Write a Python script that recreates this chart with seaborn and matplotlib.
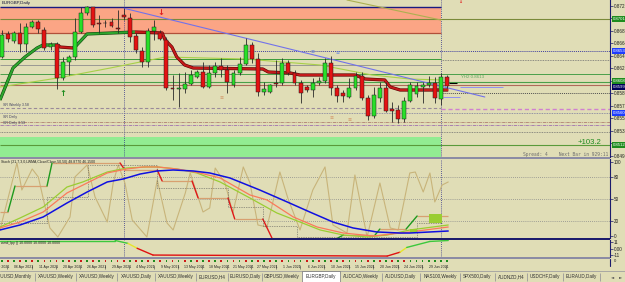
import matplotlib
matplotlib.use("Agg")
import matplotlib.pyplot as plt
import matplotlib.patheffects as pe
from matplotlib.patches import Rectangle
import seaborn as sns
import pandas as pd

sns.set_theme(style="white")
plt.rcParams['font.family'] = ['Liberation Sans', 'DejaVu Sans']

# ---------------- data ----------------
opens = [0.86445,0.86790,0.86685,0.86805,0.86640,0.86895,0.86970,0.86850,0.86595,0.86640,
         0.86130,0.86370,0.86445,0.86820,0.87105,0.87195,0.86955,0.86948,0.86970,0.86880,
         0.87075,0.87030,0.86760,0.86535,0.86370,0.86835,0.86805,0.86700,0.85980,0.85965,
         0.85965,0.86040,0.86145,0.86220,0.85995,0.86200,0.86315,0.86250,0.86025,0.86205,
         0.86340,0.86625,0.86415,0.85925,0.85925,0.86060,0.86055,0.86355,0.86205,0.86055,
         0.85995,0.85950,0.86060,0.86090,0.86355,0.85980,0.85910,0.85850,0.85980,0.86160,
         0.85830,0.85560,0.85830,0.85980,0.85658,0.85650,0.85515,0.85790,0.85890,0.85999,
         0.86025,0.86050,0.85810,0.86150]
highs = [0.86850,0.86835,0.86835,0.86955,0.86955,0.87000,0.87000,0.86895,0.86670,0.86670,
         0.86445,0.86475,0.87030,0.87195,0.87210,0.87195,0.87075,0.87000,0.87030,0.87150,
         0.87180,0.87105,0.86805,0.86595,0.86880,0.87000,0.86850,0.86745,0.86175,0.86205,
         0.86220,0.86250,0.86250,0.86370,0.86325,0.86375,0.86430,0.86325,0.86250,0.86450,
         0.86730,0.86675,0.86505,0.86075,0.86040,0.86400,0.86430,0.86400,0.86250,0.86100,
         0.86025,0.86130,0.86150,0.86430,0.86460,0.86025,0.85950,0.86130,0.86225,0.86225,
         0.85875,0.85999,0.86075,0.86075,0.85775,0.85725,0.85850,0.86075,0.86075,0.86075,
         0.86160,0.86150,0.86205,0.86175]
lows = [0.86430,0.86670,0.86655,0.86520,0.86520,0.86880,0.86805,0.86550,0.86550,0.85965,
        0.86100,0.86175,0.86400,0.86805,0.87075,0.86895,0.86805,0.86895,0.86895,0.86805,
        0.87000,0.86670,0.86505,0.86295,0.86295,0.86700,0.86700,0.85950,0.85800,0.85695,
        0.85905,0.86025,0.86130,0.85980,0.85980,0.86150,0.86145,0.85905,0.85995,0.86175,
        0.86325,0.86355,0.85860,0.85875,0.85905,0.85999,0.86025,0.86175,0.86025,0.85755,
        0.85920,0.85850,0.86025,0.86055,0.85875,0.85775,0.85775,0.85830,0.85950,0.85800,
        0.85500,0.85530,0.85775,0.85625,0.85475,0.85455,0.85475,0.85775,0.85850,0.85755,
        0.85999,0.85760,0.85725,0.85980]
closes = [0.86775,0.86715,0.86805,0.86640,0.86895,0.86970,0.86865,0.86580,0.86640,0.86130,
          0.86370,0.86445,0.86820,0.87105,0.87195,0.86925,0.86940,0.86962,0.86910,0.86865,
          0.87040,0.86745,0.86550,0.86370,0.86835,0.86895,0.86715,0.85980,0.85965,0.85980,
          0.86040,0.86175,0.86220,0.85995,0.86205,0.86315,0.86250,0.86075,0.86205,0.86340,
          0.86625,0.86415,0.85925,0.85965,0.86025,0.86040,0.86355,0.86210,0.86055,0.85910,
          0.85950,0.86060,0.86090,0.86355,0.85980,0.85860,0.85860,0.85980,0.86160,0.85830,
          0.85560,0.85875,0.85985,0.85640,0.85642,0.85515,0.85790,0.86025,0.86010,0.86025,
          0.86060,0.85825,0.86150,0.86010]

price_ticks = [0.87210,0.87023,0.86835,0.86648,0.86460,0.86273,0.86085,
               0.85898,0.85710,0.85523,0.85335,0.85148,0.84960]
marked_prices = [0.87015,0.86535,0.86085,0.85995,0.85605,0.85125]

supply_zone = (0.86800, 0.87190)
demand_zone = (0.84945, 0.85250)
zone_end = 72.0

levels = [0.87200,0.87015,0.86800,0.86535,0.86422,0.86400,0.86325,0.86197,0.86075,
          0.86020,0.85900,0.85675,0.85660,0.85600,0.85475,0.85425,0.85315,0.85125]

ma_x = [-0.28, 9.2, 17.8, 26.8, 39.9, 52.2, 60.7, 66.9, 72.0]
ma_y = [0.85995,0.86130,0.86280,0.86445,0.86415,0.86325,0.86175,0.86115,0.86100]
long_ma_x = [56.6, 72.0]
long_ma_y = [0.87300, 0.87000]
trend_x = [20.1, 79.2]
trend_y = [0.87175, 0.85845]

st_green1_x = [-0.28, 1.85, 3.82, 5.79, 6.77, 9.23]
st_green1_y = [0.85800,0.86280,0.86445,0.86580,0.86625,0.86625]
st_red1_x = [9.23, 9.56, 11.69]
st_red1_y = [0.86625,0.86595,0.86580]
st_green2_x = [11.69, 12.0, 14.0, 21.85]
st_green2_y = [0.86580,0.86595,0.86790,0.86820]
st_red2_x = [21.85,26.3,26.8,27.9,28.7,30.0,31.4,42.8,43.7,47.3,48.9,57.9,59.6,62.8,63.7,65.3,73.2]
st_red2_y = [0.86820,0.86805,0.86700,0.86595,0.86445,0.86325,0.86280,0.86265,0.86220,
             0.86205,0.86175,0.86175,0.86115,0.86100,0.85995,0.85950,0.85950]

# oscillator panel
osc_x = [-0.28,2.5,3.3,5.0,6.0,7.9,9.2,11.2,12.0,14.0,15.3,17.3,18.3,19.1,20.2,21.4,23.8,25.5,
         27.1,28.1,30.1,30.9,33.0,34.1,35.0,36.6,37.9,39.6,40.7,42.0,43.5,45.6,46.9,48.9,51.0,
         53.0,54.3,56.6,57.9,59.9,62.0,63.7,65.0,66.9,67.8,69.1,70.2,71.0,72.2,73.2]
osc_v = [8.1,98.3,61.9,90.2,79.4,10.8,-1.3,25.6,79.4,95.6,52.5,18.8,72.7,95.6,71.3,21.5,-1.3,
         75.4,17.5,8.1,57.9,84.8,32.3,37.7,91.5,71.3,31.0,92.9,71.3,14.8,12.1,86.1,51.1,8.1,
         61.9,92.9,14.8,4.0,82.1,-1.3,71.3,10.8,8.1,84.8,86.1,59.2,84.8,45.8,68.6,72.7]
blue_x = [-0.28,3.0,6.8,10.7,14.0,17.3,19.9,22.7,25.5,28.1,31.4,34.1,37.4,42.3,46.8,50.5,
          54.3,57.6,61.5,65.3,66.9,73.2]
blue_v = [8.1,14.8,25.6,44.4,59.2,72.7,76.7,83.4,87.5,88.8,87.5,84.8,78.1,61.9,45.8,32.3,
          18.8,10.8,5.4,4.0,4.0,6.7]
salmon_x = [-0.28,3.0,6.8,10.7,14.0,17.3,20.5,23.2,25.5,28.7,32.5,35.8,40.7,43.5,47.8,51.7,
            56.0,60.9,65.3,66.9,73.2]
salmon_v = [10.8,18.8,32.3,57.9,71.3,84.8,90.2,92.9,92.9,90.2,84.8,78.1,55.2,48.5,25.6,12.1,
            4.0,0.0,4.0,5.4,12.1]
lime_x = [-0.28,3.0,6.8,10.7,13.3,17.3,20.5,23.8,25.5,28.7,32.0,35.8,40.7,45.1,48.9,52.2,
          56.0,59.9,63.2,66.9,73.2]
lime_v = [12.1,24.2,39.0,65.9,72.7,86.1,91.5,92.9,92.9,90.2,84.8,72.7,51.1,31.0,18.8,8.1,
          1.3,-1.3,1.3,8.1,14.8]
step_x0 = [-0.28,2.18,8.25,20.2,26.3,32.2,38.2,44.3,56.0,62.0,68.1]
step_x1 = [1.03,7.43,19.4,25.5,31.2,37.1,42.8,55.1,61.2,66.3,73.2]
step_v = [32.7,67.3,98.3,88.8,74.0,51.1,22.9,-2.7,1.3,9.4,26.9]
dot_x = [-0.28,7.43,14.1,25.5,37.1,42.8,48.4,68.1,72.2]
dot_v = [17.5,52.5,95.6,64.6,39.0,13.5,-1.3,17.9,17.9]
osc_levels = [80, 50, 20]

sub_x = [-0.28,18.6,20.7,22.2,24.8,63.2,65.3,66.4,70.2,73.2]
sub_v = [14.5,14.5,9.3,0.5,-11.7,-13.5,-6.5,2.0,12.8,14.5]
sub_colors = "ggyrrrygg"

signal_dots = "grgrgrgrgrgrgrgrgrgr" + "rgrgrgrgrgrgrgrgrgrg" + "rgrgrgrgrgrgrgrgrgrg" + "rgrgrgrggggggg"

date_labels = ["01 Apr 2021","06 Apr 2021","11 Apr 2021","20 Apr 2021","26 Apr 2021",
               "29 Apr 2021","4 May 2021","9 May 2021","13 May 2021","18 May 2021",
               "21 May 2021","27 May 2021","1 Jun 2021","6 Jun 2021","10 Jun 2021",
               "15 Jun 2021","20 Jun 2021","24 Jun 2021","29 Jun 2021"]

tabs = ["XAUUSD,Monthly","XAUUSD,Weekly","XAUUSD,Weekly","XAUUSD,Daily","XAUUSD,Weekly",
        "EURUSD,H4","EURUSD,Daily","GBPUSD,Weekly","EURGBP,Daily","AUDCAD,Weekly",
        "AUDUSD,Daily","NAS100,Weekly","SPX500,Daily","AUDNZD,H4","USDCHF,Daily","EURAUD,Daily"]
tab_edges = [-8,35,76,117,155,196,228,262,302,340,382,420,460,495,527,563,600]
active_tab = 8

# ---------------- layout ----------------
BG = '#E0DDB6'
NAVY = '#1C1C6C'
W, H = 625, 282
fig = plt.figure(figsize=(6.25, 2.82), dpi=100, facecolor=BG)

def rect(x0, y0, x1, y1):
    return [x0 / W, 1 - y1 / H, (x1 - x0) / W, (y1 - y0) / H]

XL = (-0.28, 99.72)
ax = fig.add_axes(rect(0, 0, 610, 157))
ax2 = fig.add_axes(rect(0, 159, 610, 238))
ax3 = fig.add_axes(rect(0, 239.5, 610, 257))
ax4 = fig.add_axes(rect(0, 258.5, 625, 271))
ax5 = fig.add_axes(rect(0, 271, 625, 282))

for a in (ax, ax2, ax3):
    a.set_facecolor(BG)
    a.set_xlim(*XL)
    a.set_xticks([])
    for s in ('left', 'top', 'bottom'):
        a.spines[s].set_visible(False)
    a.spines['right'].set_color(NAVY)
    a.spines['right'].set_linewidth(0.8)
    a.yaxis.set_ticks_position('right')
    a.tick_params(axis='y', direction='out', length=2, width=0.5, color=NAVY,
                  labelsize=3.3, pad=0.8, labelcolor='#202020')
    a.axvline(20, color='#30308A', ls=(0, (1, 1.5)), lw=0.6, zorder=1)
    a.axvline(72, color='#30308A', ls=(0, (1, 1.5)), lw=0.6, zorder=1)

# separators
for (y0, y1, c) in [(157, 159, '#8C8CA4'), (238, 239.5, NAVY), (257, 258.5, '#8C8CA4')]:
    fig.add_artist(Rectangle((0, 1 - y1 / H), 610 / W, (y1 - y0) / H,
                             transform=fig.transFigure, color=c, lw=0))

# ---------------- main price panel ----------------
ax.set_ylim(0.84945, 0.87300)
ax.set_yticks(price_ticks)
# tick labels hidden behind the highlighted price boxes are left blank
ax.set_yticklabels(['' if any(abs(p - m) < 0.0003 for m in marked_prices) else f"{p:.5f}"
                    for p in price_ticks])

ax.add_patch(Rectangle((XL[0], supply_zone[0]), zone_end - XL[0],
                       supply_zone[1] - supply_zone[0], color='#FBA585', lw=0, zorder=0))
ax.add_patch(Rectangle((XL[0], demand_zone[0]), zone_end - XL[0],
                       demand_zone[1] - demand_zone[0], color='#92EC92', lw=0, zorder=0))

lvl_styles = [
    ('#1A1A80', '-', 1.0, 'L'), ('#7A8A3A', '-', 0.8, 'F'), ('#B0503A', '-', 0.9, 'L'),
    ('#4040A0', (0, (1, 1)), 0.7, 'F'), ('#3A9A3A', '-', 0.7, 'L'), ('#707070', (0, (1, 1)), 0.6, 'R'),
    ('#8E8E8E', '-', 0.6, 'L'), ('#4AA04A', '-', 0.7, 'F'), ('#4AA04A', '-', 0.8, 'F'),
    ('#B06A5A', '-', 0.8, 'F'), ('#505050', (0, (1, 1)), 0.7, 'R'), ('#9A8A9A', (0, (3, 2)), 0.8, 'L'),
    ('#D080D0', (0, (3, 2)), 1.0, 'R'), ('#7878A0', (0, (1, 1)), 0.6, 'F'),
    ('#B08070', (0, (4, 1, 1, 1)), 0.6, 'F'), ('#A070B0', (0, (4, 1, 1, 1)), 0.6, 'F'),
    ('#707070', (0, (1, 1)), 0.6, 'F'), ('#5A9A3A', '-', 0.8, 'F')]
for lv, (c, ls, lw, span) in zip(levels, lvl_styles):
    x0, x1 = {'L': (XL[0], zone_end), 'R': (zone_end, XL[1]), 'F': XL}[span]
    ax.hlines(lv, x0, x1, colors=c, linestyles=ls, lw=lw, zorder=1)

sns.lineplot(x=ma_x, y=ma_y, ax=ax, color='#A8D048', lw=0.8, sort=False, estimator=None, zorder=2)
sns.lineplot(x=long_ma_x, y=long_ma_y, ax=ax, color='#ACB050', lw=0.8, sort=False, estimator=None, zorder=2)
sns.lineplot(x=trend_x, y=trend_y, ax=ax, color='#7272EA', lw=0.8, sort=False, estimator=None, zorder=2)
ax.hlines(0.85995, 75.1, 82.2, colors='#9090F0', lw=0.7, zorder=2)
ax.hlines(0.85845, 72.3, 75.1, colors='#9090F0', lw=0.7, zorder=2)

for xs_, ys_, c, ec in [(st_green1_x, st_green1_y, '#2EA52E', '#0E4A0E'),
                        (st_red1_x, st_red1_y, '#C41A1A', '#5A0000'),
                        (st_green2_x, st_green2_y, '#2EA52E', '#0E4A0E'),
                        (st_red2_x, st_red2_y, '#C41A1A', '#5A0000')]:
    ln, = ax.plot(xs_, ys_, color=c, lw=1.5, zorder=3, solid_capstyle='butt')
    ln.set_path_effects([pe.Stroke(linewidth=2.3, foreground=ec), pe.Normal()])

xs = list(range(len(opens)))
up = [c >= o for o, c in zip(opens, closes)]
ax.vlines(xs, lows, highs, colors='#2A2A2A', lw=0.6, zorder=4)
bottoms = [min(o, c) for o, c in zip(opens, closes)]
heights = [max(abs(c - o), 0.00008) for o, c in zip(opens, closes)]
ax.bar(xs, heights, bottom=bottoms, width=0.64,
       color=['#28E028' if u else '#E41212' for u in up],
       edgecolor='#1E1E1E', lw=0.35, zorder=5)
ax.hlines(closes[-1] + 0.0004, len(opens) - 0.6, len(opens) + 0.6, colors='black', lw=0.8, zorder=5)

ax.text(10.0, 0.85905, '↑', color='#1E8C1E', fontsize=6, ha='center', va='center',
        fontweight='bold', family='DejaVu Sans', zorder=6)
ax.text(26.1, 0.87105, '↓', color='#E02020', fontsize=6, ha='center', va='center',
        fontweight='bold', family='DejaVu Sans', zorder=6)
ax.text(75.1, 0.87275, '↓', color='#E02020', fontsize=3.5, ha='center', va='center',
        fontweight='bold', family='DejaVu Sans', zorder=6)
for (x, y, c) in [(51.0, 0.86520, '#6080E0'), (55.0, 0.86505, '#6080E0'),
                  (36.1, 0.85830, '#D09060'), (54.1, 0.85530, '#D09060'), (57.1, 0.85500, '#D09060')]:
    ax.text(x, y, '≡', color=c, fontsize=3.5, ha='center', va='center', family='DejaVu Sans', zorder=6)

ax.text(0.003, 0.994, 'EURGBP,Daily', transform=ax.transAxes, fontsize=3.2,
        color='#10103A', ha='left', va='top')
ax.text(75.3, 0.86150, 'YH2 0.8613', fontsize=3.2, color='#5EA85E', ha='left', va='center')
ax.text(0.2, 0.85690, 'SR Weekly 3.58', fontsize=2.6, color='#404060', ha='left', va='bottom')
ax.text(0.2, 0.85545, 'SR Daily', fontsize=2.6, color='#404060', ha='left', va='center')
ax.text(0.2, 0.85462, 'SR Daily 3.58', fontsize=2.6, color='#404060', ha='left', va='center')
ax.text(94.4, 0.85160, '+103.2', fontsize=5.6, color='#1E8A1E', ha='left', va='center')
ax.text(99.4, 0.84978, 'Spread: 4    Next Bar in 929:11', fontsize=3.3, color='#6E6E6E',
        ha='right', va='center', family='DejaVu Sans Mono')

mark_colors = ['#1E8C1E', '#1E3CFF', '#1E8C1E', '#00005A', '#1E3CFF', '#1E8C1E']
for p, c in zip(marked_prices, mark_colors):
    ax.text(1.004, p, f"{p:.5f}", transform=ax.get_yaxis_transform(), fontsize=3.1,
            color='white', ha='left', va='center', clip_on=False, zorder=7,
            bbox=dict(boxstyle='square,pad=0.15', fc=c, ec='none'))

# ---------------- oscillator panel ----------------
ax2.set_ylim(-2.7, 103.6)
ax2.set_yticks([100, 80, 50, 20, 0])
ax2.set_yticklabels(['100', '80', '50', '20', '0'])
for lv in osc_levels:
    ax2.axhline(lv, color='#8A8A8A', ls=(0, (1, 1.5)), lw=0.6, zorder=1)
sns.lineplot(x=osc_x, y=osc_v, ax=ax2, color='#C8B47A', lw=0.8, sort=False, estimator=None, zorder=2)
ax2.hlines(step_v, step_x0, step_x1, colors='#D8A070', lw=0.9, zorder=3)
for i in range(len(step_v) - 1):
    c = '#1E9A1E' if step_v[i + 1] > step_v[i] else '#E01818'
    ax2.plot([step_x1[i], step_x0[i + 1]], [step_v[i], step_v[i + 1]], color=c, lw=1.0, zorder=3)
ax2.plot(dot_x, dot_v, drawstyle='steps-post', color='#505050', ls=(0, (1, 1.5)), lw=0.5, zorder=3)
sns.lineplot(x=lime_x, y=lime_v, ax=ax2, color='#9ACD32', lw=0.9, sort=False, estimator=None, zorder=4)
sns.lineplot(x=salmon_x, y=salmon_v, ax=ax2, color='#FA7A5A', lw=0.9, sort=False, estimator=None, zorder=4)
sns.lineplot(x=blue_x, y=blue_v, ax=ax2, color='#1010E0', lw=1.1, sort=False, estimator=None, zorder=5)
ax2.add_patch(Rectangle((66.9, 4.0), 1.2, 5.4, color='#9ACD32', lw=0, zorder=4))
ax2.add_patch(Rectangle((70.1, 17.5), 2.1, 12.1, color='#9ACD32', lw=0, zorder=4))
ax2.text(0.002, 0.985, 'Stoch (21,7,3,0,LWMA,Close/Close,50,50) 48.8770 46.1500',
         transform=ax2.transAxes, fontsize=2.5, color='#202020', ha='left', va='top')

# ---------------- sub panel ----------------
ax3.set_ylim(-15.2, 16.3)
ax3.set_yticks([11, 0, -11])
ax3.set_yticklabels(['11', '0.00', '-11'])
cmap = {'g': '#3CC83C', 'y': '#E6E62A', 'r': '#E01010'}
for i, c in enumerate(sub_colors):
    ax3.plot(sub_x[i:i + 2], sub_v[i:i + 2], color=cmap[c], lw=1.0, zorder=3)
ax3.text(0.002, 0.93, 'wmd_lpy () 10.0000 10.0000 10.0000', transform=ax3.transAxes,
         fontsize=2.5, color='#202020', ha='left', va='top')

# ---------------- date strip ----------------
ax4.set_facecolor(BG)
ax4.set_xlim(-0.28, 102.18)
ax4.set_ylim(0, 12.5)
ax4.axis('off')
dcol = {'g': '#1E8C1E', 'r': '#D01818'}
ax4.scatter(xs, [10.3] * len(xs), c=[dcol[s] for s in signal_dots], marker='s', s=1.6, lw=0, zorder=3)
ax4.axvline(99.72, ymin=0.4, ymax=1, color=NAVY, lw=0.8)
for k, lab in enumerate(date_labels):
    ax4.text(4 * k - 0.4, 4.3, lab, fontsize=2.5, color='#202020', ha='center', va='center')
    ax4.vlines(4 * k + 0.9, 2.5, 6.2, colors='#404040', lw=0.4)
ax4.text(100.3, 10.3, '0', fontsize=3.0, color='#202020', ha='left', va='center')

# ---------------- tab bar ----------------
ax5.set_facecolor('#F0F0F0')
ax5.set_xlim(0, 625)
ax5.set_ylim(0, 11)
ax5.axis('off')
ax5.axhline(10.6, color='#A0A0A0', lw=0.6)
ax5.add_patch(Rectangle((tab_edges[active_tab], 0.3), tab_edges[active_tab + 1] - tab_edges[active_tab],
                        10.5, fc='white', ec='#707070', lw=0.5, zorder=2))
for i, t in enumerate(tabs):
    cx = (tab_edges[i] + tab_edges[i + 1]) / 2
    ax5.text(cx, 5.3, t, fontsize=3.3, color='#303030', ha='center', va='center', zorder=3)
for e in tab_edges[1:]:
    ax5.vlines(e, 1.5, 9.5, colors='#9A9A9A', lw=0.6)
ax5.text(613, 5.3, '◄', fontsize=3.0, color='#505050', ha='center', va='center', family='DejaVu Sans')
ax5.text(621, 5.3, '►', fontsize=3.0, color='#505050', ha='center', va='center', family='DejaVu Sans')

fig.savefig('out.png', dpi=100, facecolor=BG)
